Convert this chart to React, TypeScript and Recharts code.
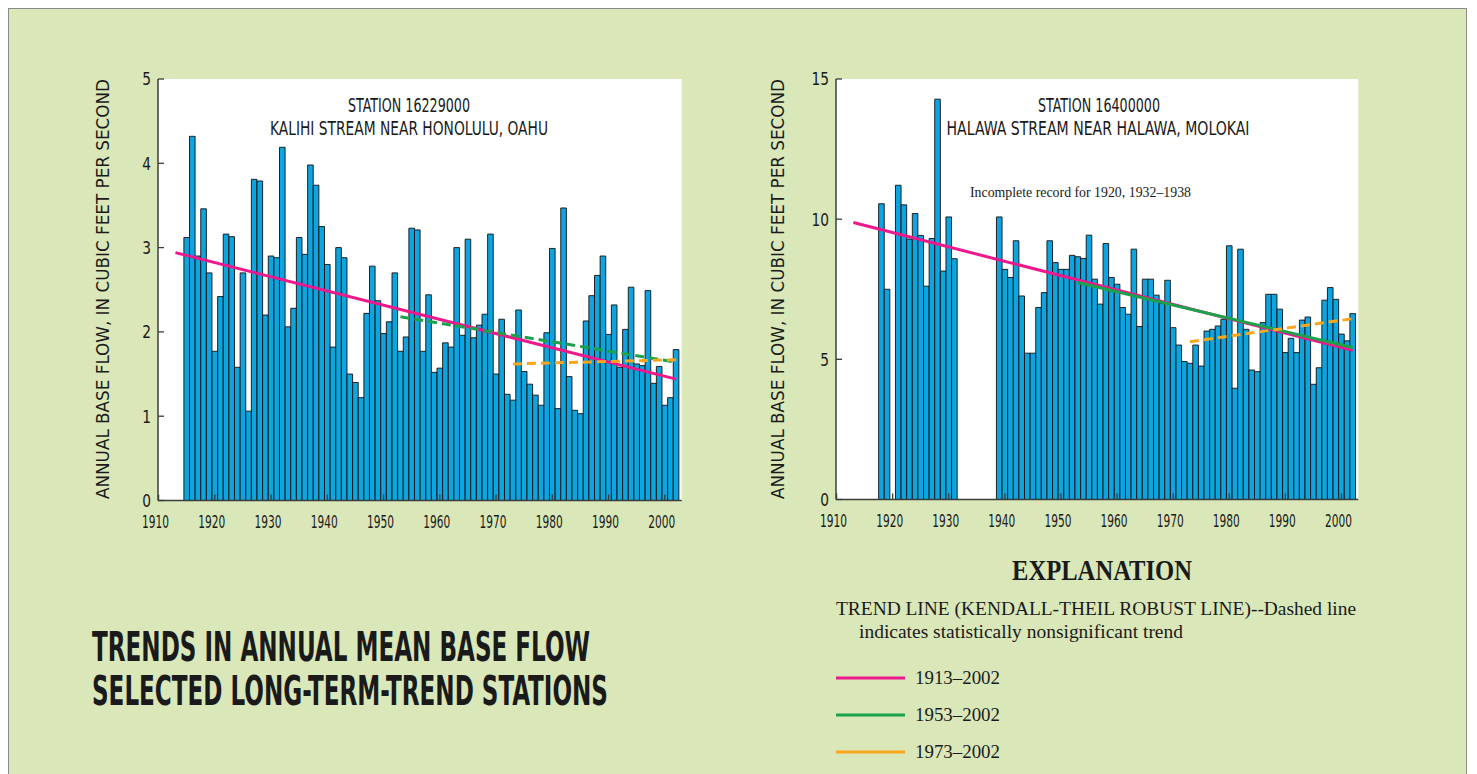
import React from "react";
import { Bar, CartesianGrid, ComposedChart, Line, XAxis, YAxis } from "recharts";

const FIRST_YEAR = 1913;
const LAST_YEAR = 2002;
const TREND_STARTS = [1913, 1953, 1973];
const DECADES = [1910, 1920, 1930, 1940, 1950, 1960, 1970, 1980, 1990, 2000];
const KALIHI_Y_TICKS = [0, 1, 2, 3, 4, 5];
const HALAWA_Y_TICKS = [0, 5, 10, 15];

// annual mean base flow, cubic feet per second, one value per year from 1913
const kalihiFlow = [
  0, 0,
  3.12, 4.32, 2.9, 3.46, 2.7,
  1.77, 2.42, 3.16, 3.13, 1.58, 2.7, 1.06, 3.81, 3.79, 2.2,
  2.9, 2.88, 4.19, 2.06, 2.28, 3.12, 2.92, 3.98, 3.74, 3.25,
  2.8, 1.82, 3.0, 2.88, 1.5, 1.4, 1.22, 2.22, 2.78, 2.37,
  1.98, 2.12, 2.7, 1.77, 1.94, 3.23, 3.21, 1.77, 2.44, 1.52,
  1.57, 1.87, 1.82, 3.0, 1.96, 3.1, 1.93, 2.08, 2.21, 3.16,
  1.5, 2.15, 1.26, 1.19, 2.26, 1.53, 1.38, 1.25, 1.13, 1.99,
  2.99, 1.09, 3.47, 1.47, 1.07, 1.03, 2.13, 2.43, 2.67, 2.9,
  1.97, 2.32, 1.58, 2.03, 2.53, 1.62, 1.6, 2.49, 1.39, 1.59,
  1.13, 1.22, 1.79,
];

const halawaFlow = [
  null, null, null, null, 0, 10.55, 7.5,
  0, 11.21, 10.51, 9.29, 10.2, 9.42, 7.61, 9.31, 14.28, 8.15,
  10.08, 8.59, 0, 0, 0, 0, 0, 0, 0, 10.08,
  8.21, 7.92, 9.23, 7.26, 5.22, 5.22, 6.85, 7.38, 9.23, 8.45,
  8.21, 8.21, 8.71, 8.66, 8.6, 9.43, 7.86, 6.97, 9.13, 7.92,
  7.68, 6.85, 6.61, 8.93, 6.17, 7.86, 7.86, 7.29, 6.99, 7.82,
  6.13, 5.51, 4.92, 4.86, 5.51, 4.76, 6.01, 6.07, 6.19, 6.43,
  9.05, 3.97, 8.93, 6.07, 4.62, 4.56, 6.31, 7.32, 7.32, 6.79,
  5.24, 5.75, 5.24, 6.4, 6.51, 4.11, 4.7, 7.11, 7.56, 7.14,
  5.9, 5.66, 6.63,
];

// trend line values at the start year and at 2002
const kalihiTrend1913 = [2.94, 1.44];
const kalihiTrend1953 = [2.18, 1.64];
const kalihiTrend1973 = [1.62, 1.67];
const halawaTrend1913 = [9.88, 5.32];
const halawaTrend1953 = [7.74, 5.42];
const halawaTrend1973 = [5.63, 6.45];

const PINK = "#ec188c";
const GREEN = "#1ba24b";
const ORANGE = "#f9a61c";
const BAR = "#0ea4df";
const FRAME = "#3c3c3c";
const NARROW = "'Liberation Sans Narrow', 'DejaVu Sans Condensed', 'Arial Narrow', 'Liberation Sans', sans-serif";
const SERIF = "'Liberation Serif', 'DejaVu Serif', serif";
const X_DOMAIN = [1909.9, 2003.0];

function buildRows(flow: (number | null)[], trends: number[][]) {
  return flow.map((v, i) => {
    const year = FIRST_YEAR + i;
    const row: any = { year, flow: v };
    trends.forEach((t, k) => {
      if (year === TREND_STARTS[k]) row["t" + k] = t[0];
      if (year === LAST_YEAR) row["t" + k] = t[1];
    });
    return row;
  });
}

const kalihiRows = buildRows(kalihiFlow, [kalihiTrend1913, kalihiTrend1953, kalihiTrend1973]);
const halawaRows = buildRows(halawaFlow, [halawaTrend1913, halawaTrend1953, halawaTrend1973]);

const XTick = (props: any) => (
  <text x={props.x - 3} y={props.y} dy="0.36em" textAnchor="middle" fontFamily={NARROW}
    fontSize={17} fill="#1a1a1a" textLength={27} lengthAdjust="spacingAndGlyphs">
    {props.payload.value}
  </text>
);

const YTick = (props: any) => (
  <text x={props.x} y={props.y} dy="0.36em" textAnchor="end" fontFamily={NARROW}
    fontSize={18} fill="#1a1a1a" transform={`translate(${props.x},0) scale(0.85,1) translate(${-props.x},0)`}>
    {props.payload.value}
  </text>
);

interface StationChartProps {
  rows: any[];
  yMax: number;
  yTicks: number[];
  left: number;
  plot: { left: number; top: number; right: number; bottom: number };
  dashed: boolean[];
}

const StationChart = ({ rows, yMax, yTicks, left, plot, dashed }: StationChartProps) => {
  const W = 700;
  const H = 540;
  const colors = [PINK, GREEN, ORANGE];
  const axisLine = { stroke: FRAME, strokeWidth: 1.5 };
  const tickLine = { stroke: FRAME, strokeWidth: 1.3 };
  return (
    <div style={{ position: "absolute", left, top: 0 }}>
      <ComposedChart width={W} height={H} data={rows}
        margin={{ top: plot.top, left: plot.left - 40, right: W - plot.right, bottom: H - plot.bottom - 30 }}>
        <CartesianGrid xAxisId="b" yAxisId="l" fill="#ffffff" horizontal={false} vertical={false} />
        <Bar xAxisId="b" yAxisId="l" dataKey="flow" fill={BAR} stroke="#111" strokeWidth={0.9}
          barSize={5.6} isAnimationActive={false} />
        {colors.map((c, k) => (
          <Line key={k} xAxisId="b" yAxisId="l" dataKey={"t" + k} stroke={c} strokeWidth={3}
            strokeDasharray={dashed[k] ? "9 5" : undefined} dot={false} activeDot={false}
            connectNulls isAnimationActive={false} />
        ))}
        <XAxis xAxisId="b" dataKey="year" type="number" domain={X_DOMAIN} ticks={DECADES} interval={0}
          allowDataOverflow height={30} tickSize={-6} tickMargin={27.5}
          axisLine={axisLine} tickLine={tickLine} tick={XTick} />
        <XAxis xAxisId="t" dataKey="year" orientation="top" type="number" domain={X_DOMAIN} ticks={DECADES}
          interval={0} allowDataOverflow height={0} tickSize={-6} tick={false}
          axisLine={axisLine} tickLine={tickLine} />
        <YAxis yAxisId="l" type="number" domain={[0, yMax]} ticks={yTicks} interval={0} allowDataOverflow
          width={40} tickSize={-6} tickMargin={13}
          axisLine={axisLine} tickLine={tickLine} tick={YTick} />
        <YAxis yAxisId="r" orientation="right" type="number" domain={[0, yMax]} ticks={yTicks} interval={0}
          allowDataOverflow width={0} tickSize={-6} tick={false}
          axisLine={axisLine} tickLine={tickLine} />
      </ComposedChart>
    </div>
  );
};

const App = () => {
  const yLabel = "ANNUAL BASE FLOW, IN CUBIC FEET PER SECOND";
  return (
    <div style={{ position: "relative", width: 1459, height: 780, background: "#d9e7b9", boxSizing: "border-box",
      borderTop: "1px solid #8a8a8a", borderLeft: "1px solid #8a8a8a", borderRight: "1px solid #8a8a8a" }}>
      <style>{"html, body { overflow: hidden; }"}</style>
      <StationChart rows={kalihiRows} yMax={5} yTicks={KALIHI_Y_TICKS} left={-1}
        plot={{ left: 150, top: 70, right: 673.7, bottom: 491.5 }} dashed={[false, true, true]} />
      <StationChart rows={halawaRows} yMax={15} yTicks={HALAWA_Y_TICKS} left={679}
        plot={{ left: 148, top: 70, right: 670.3, bottom: 490.5 }} dashed={[false, false, true]} />
      <svg width={1459} height={770} style={{ position: "absolute", left: -1, top: -1, pointerEvents: "none" }}>
        <text transform="translate(101,281) rotate(-90)" textAnchor="middle" fontFamily={NARROW} fontSize={17}
          fill="#1a1a1a" textLength={420} lengthAdjust="spacingAndGlyphs">{yLabel}</text>
        <text transform="translate(776,281) rotate(-90)" textAnchor="middle" fontFamily={NARROW} fontSize={17}
          fill="#1a1a1a" textLength={420} lengthAdjust="spacingAndGlyphs">{yLabel}</text>

        <text x={401} y={103.5} textAnchor="middle" fontFamily={NARROW} fontSize={19} fill="#1a1a1a"
          textLength={122} lengthAdjust="spacingAndGlyphs">STATION 16229000</text>
        <text x={401} y={127} textAnchor="middle" fontFamily={NARROW} fontSize={19} fill="#1a1a1a"
          textLength={278} lengthAdjust="spacingAndGlyphs">KALIHI STREAM NEAR HONOLULU, OAHU</text>
        <text x={1091} y={103.5} textAnchor="middle" fontFamily={NARROW} fontSize={19} fill="#1a1a1a"
          textLength={122} lengthAdjust="spacingAndGlyphs">STATION 16400000</text>
        <text x={1090} y={127} textAnchor="middle" fontFamily={NARROW} fontSize={19} fill="#1a1a1a"
          textLength={303} lengthAdjust="spacingAndGlyphs">HALAWA STREAM NEAR HALAWA, MOLOKAI</text>
        <text x={962} y={189} fontFamily={SERIF} fontSize={14} fill="#1a1a1a"
          textLength={221} lengthAdjust="spacingAndGlyphs">Incomplete record for 1920, 1932–1938</text>

        <text x={84} y={653} fontFamily={NARROW} fontWeight="bold" fontSize={40} fill="#1a1a1a"
          textLength={498} lengthAdjust="spacingAndGlyphs">TRENDS IN ANNUAL MEAN BASE FLOW</text>
        <text x={84} y={697} fontFamily={NARROW} fontWeight="bold" fontSize={40} fill="#1a1a1a"
          textLength={516} lengthAdjust="spacingAndGlyphs">SELECTED LONG-TERM-TREND STATIONS</text>

        <text x={1004} y={572} fontFamily={SERIF} fontWeight="bold" fontSize={30} fill="#1a1a1a"
          textLength={180} lengthAdjust="spacingAndGlyphs">EXPLANATION</text>
        <text x={828} y={607} fontFamily={SERIF} fontSize={18} fill="#1a1a1a"
          textLength={520} lengthAdjust="spacingAndGlyphs">TREND LINE (KENDALL-THEIL ROBUST LINE)--Dashed line</text>
        <text x={851} y={630} fontFamily={SERIF} fontSize={18} fill="#1a1a1a"
          textLength={324} lengthAdjust="spacingAndGlyphs">indicates statistically nonsignificant trend</text>

        {[["1913–2002", PINK], ["1953–2002", GREEN], ["1973–2002", ORANGE]].map(([label, color], i) => (
          <g key={label}>
            <line x1={828} x2={897} y1={670 + i * 37} y2={670 + i * 37} stroke={color} strokeWidth={3} />
            <text x={907} y={676 + i * 37} fontFamily={SERIF} fontSize={18} fill="#1a1a1a"
              textLength={85} lengthAdjust="spacingAndGlyphs">{label}</text>
          </g>
        ))}
      </svg>
    </div>
  );
};

export default App;
